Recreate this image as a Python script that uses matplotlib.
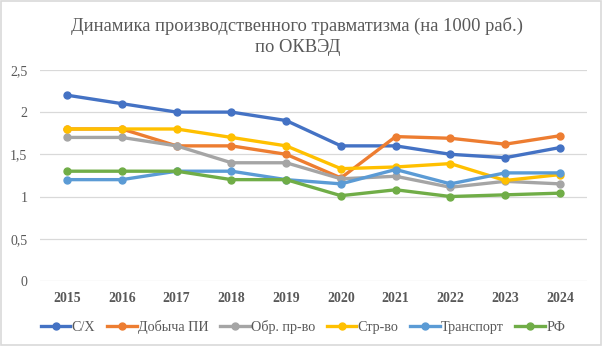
import numpy as np
from matplotlib import pyplot as plt

years = ['2015', '2016', '2017', '2018', '2019', '2020', '2021', '2022', '2023', '2024']

sx = [2.2, 2.1, 2.0, 2.0, 1.9, 1.60, 1.60, 1.50, 1.46, 1.58]
dobycha = [1.8, 1.8, 1.6, 1.6, 1.5, 1.22, 1.71, 1.69, 1.62, 1.72]
obr = [1.7, 1.7, 1.6, 1.4, 1.4, 1.21, 1.24, 1.11, 1.18, 1.15]
strvo = [1.8, 1.8, 1.8, 1.7, 1.6, 1.33, 1.35, 1.39, 1.19, 1.26]
transport = [1.2, 1.2, 1.3, 1.3, 1.2, 1.15, 1.32, 1.15, 1.28, 1.28]
rf = [1.3, 1.3, 1.3, 1.2, 1.2, 1.01, 1.08, 1.00, 1.02, 1.04]

names = ['С/Х', 'Добыча ПИ', 'Обр. пр-во', 'Стр-во', 'Транспорт', 'РФ']
series = [sx, dobycha, obr, strvo, transport, rf]
colors = ['#4472C4', '#ED7D31', '#A5A5A5', '#FFC000', '#5B9BD5', '#70AD47']

plt.rcParams['font.family'] = ['Liberation Serif', 'DejaVu Serif']

fig = plt.figure(figsize=(6.03, 3.46), dpi=100)
ax = fig.add_axes([0.066, 0.188, 0.908, 0.61])

x = np.arange(len(years))
for vals, name, c in zip(series, names, colors):
    ax.plot(x, vals, color=c, lw=2.4, marker='o', markersize=5, label=name)

ax.set_xlim(-0.5, len(years) - 0.5)
ax.set_ylim(0, 2.5)
ax.set_yticks([0, 0.5, 1, 1.5, 2, 2.5])
ax.set_yticklabels(['0', '0,5', '1', '1,5', '2', '2,5'])
ax.set_xticks(x)
ax.set_xticklabels(years, fontweight='bold')
ax.tick_params(axis='both', length=0, labelsize=10, colors='#595959')
ax.tick_params(axis='x', pad=8)
ax.tick_params(axis='y', pad=9)
ax.grid(axis='y', color='#D9D9D9', lw=0.9)
ax.set_axisbelow(True)
for s in ax.spines.values():
    s.set_visible(False)

fig.suptitle('Динамика производственного травматизма (на 1000 раб.)\nпо ОКВЭД',
             x=0.493, y=0.952, fontsize=13.3, color='#595959', linespacing=1.3)

ax.legend(loc='center', bbox_to_anchor=(0.481, -0.219), ncol=6, frameon=False,
          fontsize=10.2, handlelength=2.1, handletextpad=0.1, columnspacing=0.8,
          labelcolor='#595959')

fig.patches.append(plt.Rectangle((0.002, 0.003), 0.995, 0.994, transform=fig.transFigure,
                                 fill=False, edgecolor='#D9D9D9', lw=1.2))

plt.savefig('out.png', dpi=100)
